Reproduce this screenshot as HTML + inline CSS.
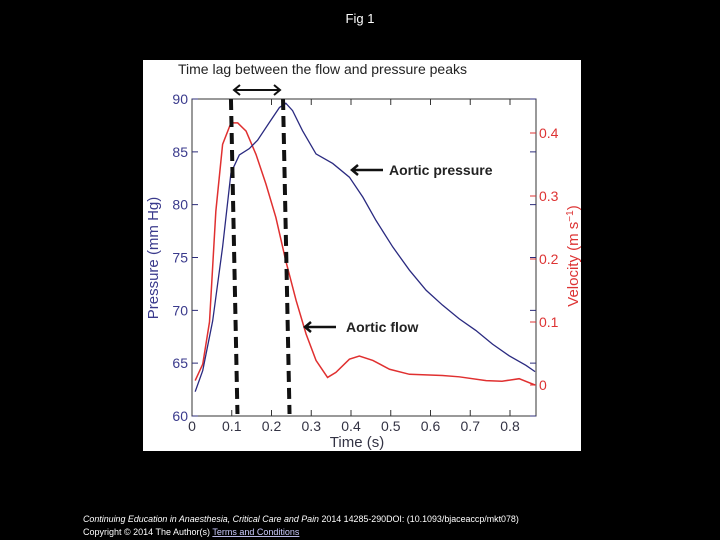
<!DOCTYPE html>
<html><head><meta charset="utf-8"><style>
body{margin:0;background:#000;width:720px;height:540px;overflow:hidden;font-family:"Liberation Sans",sans-serif}
svg{position:absolute;left:0;top:0}
</style></head><body>
<svg width="720" height="540">
<text x="360" y="23" fill="#fff" font-size="13" text-anchor="middle">Fig 1</text>
<rect x="143" y="60" width="438" height="391" fill="#fff"/>
<text x="178" y="74" font-size="14" fill="#222">Time lag between the flow and pressure peaks</text>
<g id="chart"></g>
<text x="83" y="522" fill="#fff" font-size="8.9"><tspan font-style="italic">Continuing Education in Anaesthesia, Critical Care and Pain</tspan> 2014 14285-290DOI: (10.1093/bjaceaccp/mkt078)</text>
<text x="83" y="535" fill="#fff" font-size="9">Copyright © 2014 The Author(s) <tspan text-decoration="underline" fill="#ccf">Terms and Conditions</tspan></text>
</svg>
<script>
const xTicks=[0,0.1,0.2,0.3,0.4,0.5,0.6,0.7,0.8];
const pTicks=[60,65,70,75,80,85,90];
const vTicks=[0,0.1,0.2,0.3,0.4];
const pT=[0.008,0.027,0.052,0.077,0.098,0.119,0.144,0.165,0.195,0.22,0.236,0.253,0.278,0.312,0.354,0.396,0.43,0.463,0.505,0.547,0.589,0.63,0.672,0.714,0.756,0.798,0.84,0.863];
const pV=[62.3,64.3,69,76,83,84.7,85.3,86.1,87.8,89.2,89.6,88.9,87,84.8,83.9,82.6,80.7,78.5,76,73.8,71.9,70.5,69.2,68.1,66.8,65.7,64.8,64.2];
const vT=[0.008,0.027,0.044,0.06,0.077,0.098,0.115,0.136,0.161,0.186,0.211,0.236,0.262,0.287,0.312,0.341,0.362,0.396,0.421,0.455,0.497,0.547,0.63,0.672,0.74,0.78,0.823,0.863];
const vV=[0.007,0.033,0.10,0.276,0.382,0.416,0.416,0.403,0.366,0.319,0.266,0.197,0.134,0.081,0.039,0.012,0.02,0.041,0.046,0.039,0.025,0.017,0.015,0.013,0.007,0.006,0.01,0];
const peakT=[0.098,0.229];
const L=192,R=536,T=99,B=416;
const X=t=>L+t*397.5;
const YP=p=>B-(p-60)*(B-T)/30;
const YV=v=>385-v*630;
const g=document.getElementById('chart');
const NS='http://www.w3.org/2000/svg';
function mk(tag,a,txt){const e=document.createElementNS(NS,tag);for(const k in a)e.setAttribute(k,a[k]);if(txt!==undefined)e.textContent=txt;g.appendChild(e);return e;}
let e=mk('rect',{x:L,y:T,width:R-L,height:B-T,fill:'none',stroke:'#333','stroke-width':1});


xTicks.forEach(t=>{const x=X(t);
 let k=mk('path',{d:`M${x},${B}v-6M${x},${T}v6`,stroke:'#333'});
 
 
 let l=mk('text',{x:x,y:B+15,'font-size':14,fill:'#334','text-anchor':'middle'},String(t));
 
 });
pTicks.forEach(p=>{const y=YP(p);
 let k=mk('path',{d:`M${L},${y}h6M${R},${y}h-6`,stroke:'#2c2c7a'});
 
 
 let l=mk('text',{x:L-4,y:y+5,'font-size':14,fill:'#3a3a8c','text-anchor':'end'},String(p));
 
 });
vTicks.forEach(v=>{const y=YV(v);
 let k=mk('path',{d:`M${R},${y}h-6`,stroke:'#d33'});
 
 
 let l=mk('text',{x:R+3,y:y+5,'font-size':14,fill:'#d33'},String(v));
 
 });
e=mk('text',{x:357,y:447,'font-size':15,fill:'#334','text-anchor':'middle'},'Time (s)');


e=mk('text',{x:0,y:0,'font-size':15,fill:'#3a3a8c','text-anchor':'middle',transform:'translate(158,258) rotate(-90)'},'Pressure (mm Hg)');


e=mk('text',{x:0,y:0,'font-size':15,fill:'#d33','text-anchor':'middle',transform:'translate(578,256) rotate(-90)'});
e.innerHTML='Velocity (m s<tspan dy="-5" font-size="10">−1</tspan><tspan dy="5">)</tspan>';


e=mk('path',{d:'M'+vT.map((t,i)=>X(t)+','+YV(vV[i])).join('L'),fill:'none',stroke:'#e03030','stroke-width':1.5});


e=mk('path',{d:'M'+pT.map((t,i)=>X(t)+','+YP(pV[i])).join('L'),fill:'none',stroke:'#2a2a80','stroke-width':1.3});


peakT.forEach(t=>{const x=X(t);
 let d=mk('line',{x1:x,y1:T,x2:x+6.5,y2:B-2,stroke:'#111','stroke-width':4,'stroke-dasharray':'11,6'});
 
 });
e=mk('path',{d:'M234,90H280M240,85L234,90L240,95M274,85L280,90L274,95',stroke:'#111','stroke-width':2,fill:'none'});


e=mk('path',{d:'M352,170H383M358,165L352,170L358,175',stroke:'#111','stroke-width':2.5,fill:'none'});


e=mk('text',{x:389,y:175,'font-size':14,'font-weight':'bold',fill:'#222'},'Aortic pressure');


e=mk('path',{d:'M305,327H336M311,322L305,327L311,332',stroke:'#111','stroke-width':2.5,fill:'none'});


e=mk('text',{x:346,y:332,'font-size':14,'font-weight':'bold',fill:'#222'},'Aortic flow');


</script>
</body></html>
